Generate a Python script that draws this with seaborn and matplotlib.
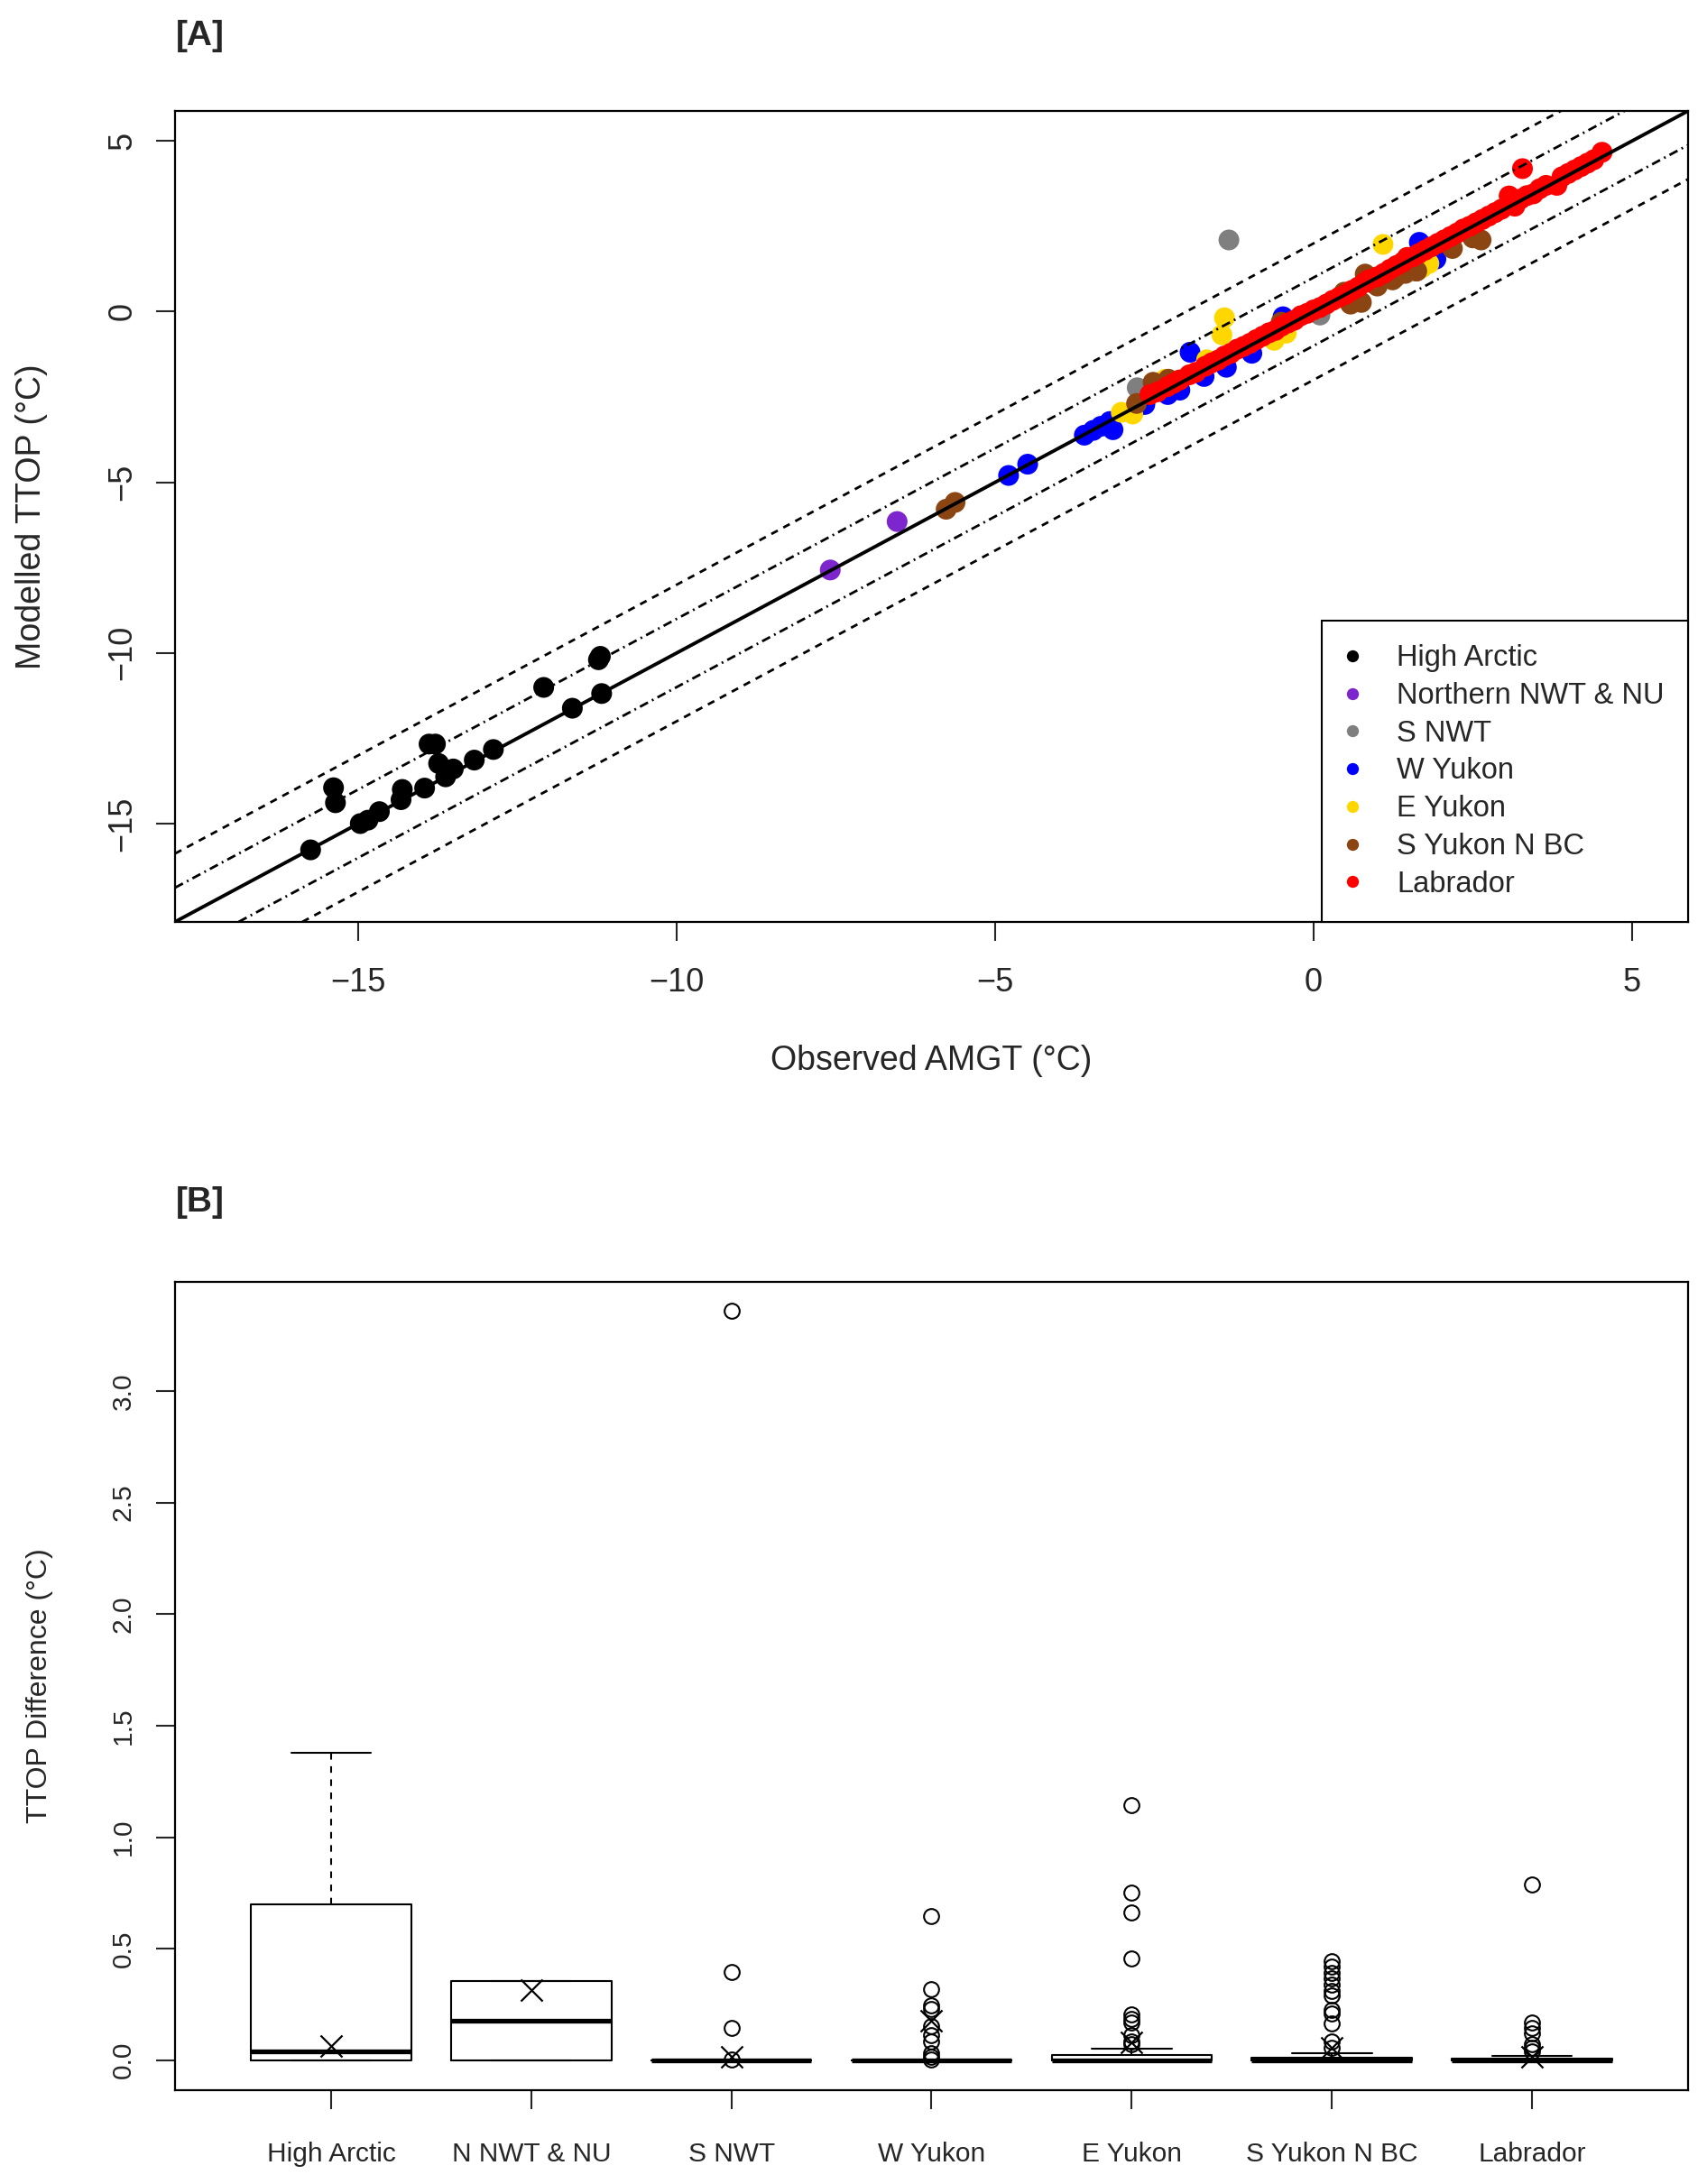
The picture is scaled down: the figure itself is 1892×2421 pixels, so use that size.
import numpy as np
import pandas as pd
import matplotlib
matplotlib.use("Agg")
import matplotlib.pyplot as plt
from matplotlib.lines import Line2D
import seaborn as sns

# ---- panel A data (observed AMGT vs modelled TTOP) ----
regions = ["High Arctic", "Northern NWT & NU", "S NWT", "W Yukon",
           "E Yukon", "S Yukon N BC", "Labrador"]
region_colors = ["#000000", "#7D26CD", "#7F7F7F", "#0000FF",
                 "#FFD700", "#8B4513", "#FF0000"]

ha_x = [-15.75, -15.39, -15.36, -14.97, -14.85, -14.67, -14.33, -14.31, -13.96, -13.89,
        -13.79, -13.74, -13.63, -13.51, -13.18, -12.88, -12.09, -11.64, -11.23, -11.20, -11.18]
ha_y = [-15.77, -13.95, -14.39, -15.00, -14.90, -14.65, -14.30, -14.00, -13.96, -12.67,
        -12.67, -13.24, -13.63, -13.40, -13.14, -12.83, -11.01, -11.62, -10.20, -10.10, -11.19]

nnwt_x = [-7.59, -6.54]
nnwt_y = [-7.57, -6.15]

snwt_x = [-2.77, -2.62, -1.33, 0.10]
snwt_y = [-2.23, -2.50, 2.10, -0.10]

wyk_x = [-4.79, -4.49, -3.60, -3.46, -3.34, -3.20, -3.15, -2.81, -2.65, -2.29, -2.10,
         -1.94, -1.72, -1.37, -0.97, -0.48, 1.66, 1.92]
wyk_y = [-4.80, -4.47, -3.62, -3.48, -3.36, -3.22, -3.46, -2.86, -2.72, -2.43, -2.30,
         -1.19, -1.90, -1.63, -1.22, -0.15, 2.03, 1.54]

eyk_x = [-3.02, -2.84, -2.33, -1.68, -1.40, -1.44, -0.62, -0.43, 0.39, 1.09, 1.70, 1.81]
eyk_y = [-2.95, -3.00, -1.98, -1.41, -0.18, -0.68, -0.84, -0.63, 0.40, 1.97, 1.28, 1.41]

syk_x = [-5.77, -5.63, -2.78, -2.52, -2.28, -0.51, 0.48, 0.58, 0.63, 0.75, 0.81, 0.91,
         1.00, 1.24, 1.28, 1.44, 1.61, 1.62, 2.18, 2.50, 2.63]
syk_y = [-5.79, -5.59, -2.69, -2.07, -1.98, -0.31, 0.57, 0.22, 0.32, 0.27, 1.10, 0.85,
         0.75, 0.93, 1.00, 1.12, 1.19, 1.19, 1.85, 2.16, 2.10]

lab_x = [-2.57, -2.45, -2.30, -2.20, -2.10, -1.95, -1.85, -1.70, -1.60, -1.50, -1.40,
         -1.30, -1.20, -1.10, -1.00, -0.90, -0.80, -0.70, -0.60, -0.50, -0.40, -0.30,
         -0.20, -0.10, 0.00, 0.10, 0.20, 0.30, 0.40, 0.50, 0.60, 0.70, 0.80, 0.86,
         1.00, 1.10, 1.20, 1.30, 1.40, 1.47, 1.55, 1.65, 1.75, 1.85, 1.95, 2.05, 2.15,
         2.25, 2.35, 2.45, 2.55, 2.65, 2.75, 2.85, 2.95, 3.07, 3.16, 3.25, 3.35, 3.45,
         3.55, 3.65, 3.82, 3.90, 4.00, 4.10, 4.20, 4.30, 4.40, 4.53, 3.28]
lab_y = [-2.43, -2.35, -2.20, -2.10, -2.00, -1.85, -1.78, -1.60, -1.50, -1.42, -1.30,
         -1.22, -1.10, -1.02, -0.93, -0.82, -0.72, -0.62, -0.55, -0.42, -0.33, -0.25,
         -0.12, -0.05, 0.05, 0.12, 0.22, 0.33, 0.42, 0.50, 0.62, 0.72, 0.85, 0.93,
         1.02, 1.12, 1.24, 1.35, 1.45, 1.59, 1.60, 1.70, 1.80, 1.90, 2.00, 2.10, 2.20,
         2.30, 2.42, 2.50, 2.60, 2.70, 2.80, 2.90, 3.00, 3.39, 3.09, 3.30, 3.40, 3.45,
         3.60, 3.70, 3.70, 3.95, 4.05, 4.15, 4.25, 4.35, 4.45, 4.67, 4.19]

# ---- panel B data (TTOP difference box statistics) ----
box_labels = ["High Arctic", "N NWT & NU", "S NWT", "W Yukon",
              "E Yukon", "S Yukon N BC", "Labrador"]
box_q1 = [0.0, 0.0, 0.0, 0.0, 0.0, 0.0, 0.0]
box_med = [0.04, 0.178, 0.0, 0.0, 0.0, 0.0, 0.0]
box_q3 = [0.70, 0.357, 0.0, 0.0, 0.022, 0.012, 0.008]
box_whislo = [0.0, 0.0, 0.0, 0.0, 0.0, 0.0, 0.0]
box_whishi = [1.38, 0.357, 0.0, 0.0, 0.053, 0.032, 0.018]
box_mean = [0.062, 0.315, 0.015, 0.178, 0.08, 0.057, 0.016]
box_fliers = [
    [],
    [],
    [3.36, 0.396, 0.144, 0.003],
    [0.647, 0.318, 0.245, 0.229, 0.154, 0.111, 0.086, 0.030, 0.016, 0.004],
    [1.142, 0.753, 0.663, 0.458, 0.205, 0.185, 0.168, 0.111, 0.086, 0.070],
    [0.445, 0.420, 0.393, 0.366, 0.339, 0.312, 0.292, 0.225, 0.208, 0.164, 0.084, 0.057],
    [0.787, 0.167, 0.144, 0.121, 0.070, 0.057, 0.040],
]

sns.set_style("white")
plt.rcParams["font.family"] = ["Liberation Sans", "DejaVu Sans"]
plt.rcParams["axes.linewidth"] = 1.6

fig = plt.figure(figsize=(18.92, 24.21), dpi=100)
axA = fig.add_axes([0.1025, 0.5779, 0.8864, 0.3713])
axB = fig.add_axes([0.1025, 0.0430, 0.8864, 0.3701])

# ---------------- panel A ----------------
xs = [ha_x, nnwt_x, snwt_x, wyk_x, eyk_x, syk_x, lab_x]
ys = [ha_y, nnwt_y, snwt_y, wyk_y, eyk_y, syk_y, lab_y]
df = pd.concat([pd.DataFrame({"obs": x, "mod": y, "region": r})
                for x, y, r in zip(xs, ys, regions)], ignore_index=True)

sns.scatterplot(data=df, x="obs", y="mod", hue="region", hue_order=regions,
                palette=region_colors, s=275, linewidth=0, alpha=1,
                legend=False, ax=axA, zorder=2)

axA.axline((0, 0), slope=1, color="black", lw=2.8, zorder=3)
for off in (1, -1):
    axA.axline((0, off), slope=1, color="black", lw=2.0,
               dashes=(3.6, 1.8, 0.7, 1.8), zorder=3)
for off in (2, -2):
    axA.axline((0, off), slope=1, color="black", lw=2.0,
               dashes=(2.9, 2.5), zorder=3)

axA.set_xlim(-17.88, 5.88)
axA.set_ylim(-17.88, 5.88)
axA.set_xticks([-15, -10, -5, 0, 5])
axA.set_yticks([-15, -10, -5, 0, 5])
axA.tick_params(axis="both", direction="out", length=15, width=1.5,
                labelsize=26, bottom=True, left=True)
axA.tick_params(axis="x", pad=21)
axA.tick_params(axis="y", pad=14, labelrotation=90)
for lab in axA.get_yticklabels():
    lab.set_va("center")
axA.set_xlabel("Observed AMGT (°C)", fontsize=27)
axA.set_ylabel("Modelled TTOP (°C)", fontsize=27)
axA.xaxis.set_label_coords(0.5, -0.1713)
axA.xaxis.label.set_va("center")
axA.yaxis.set_label_coords(-0.0948, 0.5)
axA.yaxis.label.set_va("center")
for sp in axA.spines.values():
    sp.set_color("black")
    sp.set_linewidth(1.6)

handles = [Line2D([0], [0], marker="o", linestyle="none", markersize=9.6,
                  markerfacecolor=c, markeredgewidth=0) for c in region_colors]
leg = axA.legend(handles, regions, loc="lower right", borderaxespad=0,
                 fontsize=23.5, frameon=True, fancybox=False, framealpha=1,
                 edgecolor="black", borderpad=0.8, labelspacing=0.33,
                 handlelength=0.5, handletextpad=1.25)
leg.get_frame().set_linewidth(1.5)

# ---------------- panel B ----------------
stats = []
for i in range(len(box_labels)):
    stats.append(dict(label=box_labels[i], q1=box_q1[i], med=box_med[i],
                      q3=box_q3[i], whislo=box_whislo[i], whishi=box_whishi[i],
                      fliers=box_fliers[i]))
positions = np.arange(1, len(box_labels) + 1)
axB.bxp(stats, positions=positions, widths=0.8, capwidths=0.4,
        showfliers=True, patch_artist=False,
        boxprops=dict(color="black", linewidth=1.5),
        medianprops=dict(color="black", linewidth=3.8, solid_capstyle="butt"),
        whiskerprops=dict(color="black", linewidth=1.5, dashes=(3.5, 3.5)),
        capprops=dict(color="black", linewidth=1.5),
        flierprops=dict(marker="o", markersize=12, markerfacecolor="none",
                        markeredgecolor="black", markeredgewidth=1.5))
sns.scatterplot(x=positions, y=box_mean, marker="x", s=300, color="black",
                linewidth=1.6, ax=axB, zorder=4, legend=False)

axB.set_xlim(0.22, 7.78)
axB.set_ylim(-0.134, 3.49)
axB.set_xticks(positions)
axB.set_xticklabels(box_labels)
axB.set_yticks([0, 0.5, 1.0, 1.5, 2.0, 2.5, 3.0])
axB.set_yticklabels(["0.0", "0.5", "1.0", "1.5", "2.0", "2.5", "3.0"])
axB.tick_params(axis="both", direction="out", length=15, width=1.5,
                labelsize=21.5, bottom=True, left=True)
axB.tick_params(axis="x", pad=26)
axB.tick_params(axis="y", pad=16, labelrotation=90)
for lab in axB.get_yticklabels():
    lab.set_va("center")
axB.set_xlabel("")
axB.set_ylabel("TTOP Difference (°C)", fontsize=23)
axB.yaxis.set_label_coords(-0.0894, 0.5)
axB.yaxis.label.set_va("center")
for sp in axB.spines.values():
    sp.set_color("black")
    sp.set_linewidth(1.6)

fig.text(0.103, 1 - 40 / 2421, "[A]", fontsize=28, fontweight="bold",
         ha="left", va="center")
fig.text(0.103, 1 - 1333 / 2421, "[B]", fontsize=28, fontweight="bold",
         ha="left", va="center")

fig.savefig("out.png", dpi=100, facecolor="white")
